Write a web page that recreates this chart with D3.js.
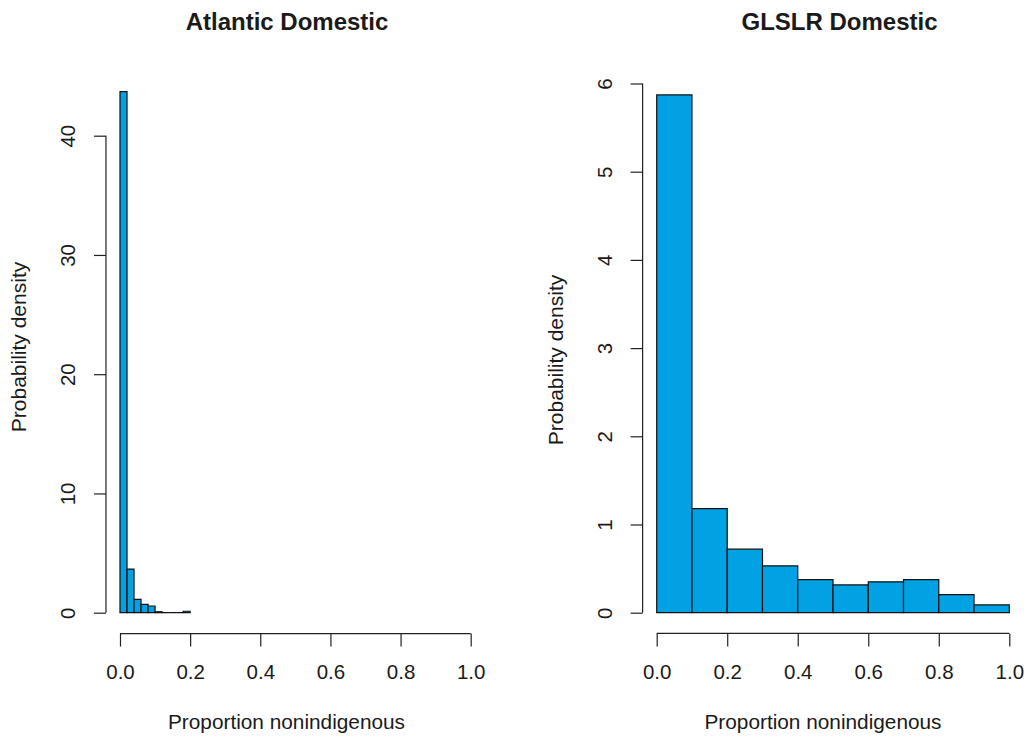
<!DOCTYPE html>
<html>
<head>
<meta charset="utf-8">
<script src="https://cdn.jsdelivr.net/npm/d3@7"></script>
<style>
	body { margin: 0; background: #fff; }
	text { font-family: "Liberation Sans", Arial, sans-serif; fill: #1a1a1a; }
</style>
</head>
<body>
<div id="chart"></div>
<script>
// histogram data (density per bin)
var atlanticBreaks = [0, 0.02, 0.04, 0.06, 0.08, 0.10, 0.12, 0.14, 0.16, 0.18, 0.20];
var atlanticDensity = [43.7, 3.66, 1.12, 0.70, 0.56, 0.08, 0, 0, 0, 0.12];

var glslrBreaks = [0, 0.1, 0.2, 0.3, 0.4, 0.5, 0.6, 0.7, 0.8, 0.9, 1.0];
var glslrDensity = [5.87, 1.18, 0.72, 0.53, 0.375, 0.315, 0.35, 0.375, 0.205, 0.088];

var xTicks = [0, 0.2, 0.4, 0.6, 0.8, 1.0];
var atlanticYTicks = [0, 10, 20, 30, 40];
var glslrYTicks = [0, 1, 2, 3, 4, 5, 6];

var titles = ["Atlantic Domestic", "GLSLR Domestic"];
var xLabel = "Proportion nonindigenous";
var yLabel = "Probability density";

var width = 1027;
var height = 738;

var svg = d3.select("#chart")
	.append("svg")
	.attr("width", width)
	.attr("height", height);

drawPanel({
	breaks: atlanticBreaks,
	density: atlanticDensity,
	yTicks: atlanticYTicks,
	title: titles[0],
	xRange: [120, 470.7],
	yRange: [612.7, 135.7],
	titleX: 287,
	xLabelX: 286.5,
	yLabelY: 347
});

drawPanel({
	breaks: glslrBreaks,
	density: glslrDensity,
	yTicks: glslrYTicks,
	title: titles[1],
	xRange: [656.7, 1009.3],
	yRange: [612.7, 83.5],
	titleX: 839.5,
	xLabelX: 823,
	yLabelY: 360
});

function drawPanel(p)
{
	var xScale = d3.scaleLinear()
		.domain([0, 1])
		.range(p.xRange);

	var yMax = p.yTicks[p.yTicks.length - 1];
	var yScale = d3.scaleLinear()
		.domain([0, yMax])
		.range(p.yRange);

	// R style: plot region padded by 4% on each side
	var xLeft = xScale(-0.04);
	var yBottom = yScale(-0.04 * d3.max(p.density));

	var bins = [];
	for(var i = 0; i < p.density.length; i++)
	{
		bins.push({x0: p.breaks[i], x1: p.breaks[i + 1], d: p.density[i]});
	}

	// bars as paths so empty bins still show as a line
	svg.append("g")
		.selectAll("path")
		.data(bins)
		.enter()
		.append("path")
		.attr("d", function(b){
			return "M" + xScale(b.x0) + "," + yScale(0) +
				"V" + yScale(b.d) +
				"H" + xScale(b.x1) +
				"V" + yScale(0) + "Z";
		})
		.attr("fill", "#00a2e3")
		.attr("stroke", "#111")
		.attr("stroke-width", 1.2);

	//x axis
	var xAxis = d3.axisBottom(xScale)
		.tickValues(xTicks)
		.tickSize(13)
		.tickPadding(18)
		.tickFormat(d3.format(".1f"));

	var gx = svg.append("g")
		.attr("transform", "translate(0," + yBottom + ")")
		.call(xAxis);
	gx.select(".domain").remove();
	gx.append("line")
		.attr("x1", xScale(xTicks[0]))
		.attr("x2", xScale(xTicks[xTicks.length - 1]));
	gx.selectAll("line").attr("stroke", "#222").attr("stroke-width", 1.2);
	gx.selectAll("text")
		.attr("fill", "#1a1a1a")
		.style("font-size", "20.5px")
		.style("font-family", "'Liberation Sans', Arial, sans-serif");

	//y axis
	var yAxis = d3.axisLeft(yScale)
		.tickValues(p.yTicks)
		.tickSize(12)
		.tickFormat(d3.format("d"));

	var gy = svg.append("g")
		.attr("transform", "translate(" + xLeft + ",0)")
		.call(yAxis);
	gy.select(".domain").remove();
	gy.append("line")
		.attr("y1", yScale(p.yTicks[0]))
		.attr("y2", yScale(yMax));
	gy.selectAll("line").attr("stroke", "#222").attr("stroke-width", 1.2);
	gy.selectAll("text")
		.attr("x", null)
		.attr("dy", null)
		.attr("fill", "#1a1a1a")
		.attr("text-anchor", "middle")
		.attr("dominant-baseline", "central")
		.attr("transform", "translate(-38,0) rotate(-90)")
		.style("font-size", "20.5px")
		.style("font-family", "'Liberation Sans', Arial, sans-serif");

	//labels
	svg.append("text")
		.attr("x", p.titleX)
		.attr("y", 30)
		.attr("text-anchor", "middle")
		.style("font-size", "24px")
		.style("font-weight", "bold")
		.text(p.title);

	svg.append("text")
		.attr("x", p.xLabelX)
		.attr("y", 729)
		.attr("text-anchor", "middle")
		.style("font-size", "20.8px")
		.text(xLabel);

	svg.append("text")
		.attr("transform", "translate(" + (xLeft - 87) + "," + p.yLabelY + ") rotate(-90)")
		.attr("text-anchor", "middle")
		.attr("dominant-baseline", "central")
		.style("font-size", "21px")
		.text(yLabel);
}
</script>
</body>
</html>
